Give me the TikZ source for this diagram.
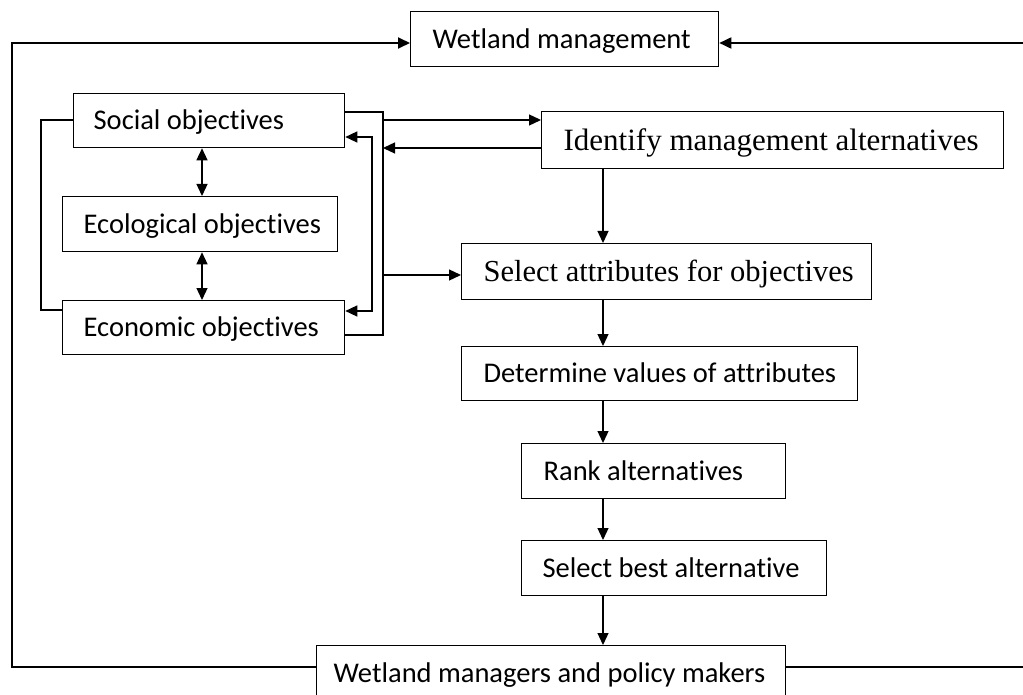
\documentclass[tikz,border=0pt]{standalone}
\usepackage{fontspec}
\setmainfont{Carlito}[Ligatures=NoCommon]
\newfontfamily\cambf{Liberation Serif}
\usetikzlibrary{arrows.meta}
\newcommand\txtbox[2]{\makebox[#1pt][l]{#2}}
\begin{document}
\begin{tikzpicture}[x=1pt,y=-1pt,
  box/.style={draw, line width=1.3pt, inner xsep=0pt, inner ysep=0pt, anchor=north west,
    font=\fontsize{28.5}{32}\selectfont, text height=18pt, text depth=0pt},
  sbox/.style={box, font=\cambf\fontsize{30.5}{34}\selectfont, text height=20pt},
  conn/.style={line width=1.3pt},
  loop/.style={line width=1.8pt},
  tip/.tip={Triangle[length=12pt,width=11pt]},
  arr/.style={conn,-tip},
  darr/.style={conn,tip-tip}]
\useasboundingbox (0,0) rectangle (1023,695);
\clip (0,0) rectangle (1023,695);
% boxes
\node[box, minimum width=308pt, minimum height=55pt] (wm) at (410,11) {\txtbox{264}{Wetland management}};
\node[box, minimum width=271pt, minimum height=54pt] (soc) at (73,93) {\txtbox{231}{Social objectives}};
\node[box, minimum width=275pt, minimum height=55pt] (eco) at (62,196) {\txtbox{233}{Ecological objectives}};
\node[box, minimum width=282pt, minimum height=54pt] (ecn) at (62,300) {\txtbox{240}{Economic objectives}};
\node[sbox, minimum width=462pt, minimum height=57pt, font=\cambf\fontsize{31}{35}\selectfont] (ida) at (541,111) {\txtbox{418}{Identify management alternatives}};
\node[sbox, minimum width=410pt, minimum height=56pt] (sel) at (461,243) {\txtbox{366}{Select attributes for objectives}};
\node[box, minimum width=396pt, minimum height=54pt] (det) at (461,346) {\txtbox{352}{Determine values of attributes}};
\node[box, minimum width=264pt, minimum height=55pt] (rank) at (521,443) {\txtbox{220}{Rank alternatives}};
\node[box, minimum width=305pt, minimum height=55pt] (best) at (521,540) {\txtbox{263}{Select best alternative}};
\node[box, minimum width=469pt, minimum height=55pt] (wmp) at (316,645) {\txtbox{435}{Wetland managers and policy makers}};
% helper coordinates
\coordinate (ax) at (603,0);
\coordinate (dx) at (202,0);
\coordinate (lb) at (41,0);
\coordinate (ob) at (383,0);
\coordinate (ib) at (372,0);
\coordinate (lx) at (12,0);
\coordinate (rx) at (1040,0);
\coordinate (y43) at (0,43);
\coordinate (y667) at (0,667);
\coordinate (y112) at (0,112);
\coordinate (y120) at (0,120);
\coordinate (y137) at (0,137);
\coordinate (y148) at (0,148);
\coordinate (y275) at (0,275);
\coordinate (y310) at (0,310);
\coordinate (y311) at (0,311);
\coordinate (y335) at (0,335);
% main vertical chain
\draw[arr] (ida.south -| ax) -- (sel.north -| ax);
\draw[arr] (sel.south -| ax) -- (det.north -| ax);
\draw[arr] (det.south -| ax) -- (rank.north -| ax);
\draw[arr] (rank.south -| ax) -- (best.north -| ax);
\draw[arr] (best.south -| ax) -- (wmp.north -| ax);
% objectives
\draw[darr] (soc.south -| dx) -- (eco.north -| dx);
\draw[darr] (eco.south -| dx) -- (ecn.north -| dx);
\draw[conn] (soc.west |- y120) -- (lb |- y120) -- (lb |- y310) -- (ecn.west |- y310);
\draw[conn] (soc.east |- y112) -- (ob |- y112) -- (ob |- y335) -- (ecn.east |- y335);
\draw[darr] (soc.east |- y137) -- (ib |- y137) -- (ib |- y311) -- (ecn.east |- y311);
\draw[arr] (ob |- y120) -- (ida.west |- y120);
\draw[arr] (ob |- y275) -- (sel.west |- y275);
\draw[arr] (ida.west |- y148) -- (ob |- y148);
% feedback loops
\draw[loop,-tip] (wmp.west |- y667) -- (lx |- y667) -- (lx |- y43) -- (wm.west |- y43);
\draw[loop,-tip] (wmp.east |- y667) -- (rx |- y667) -- (rx |- y43) -- (wm.east |- y43);
\end{tikzpicture}
\end{document}
